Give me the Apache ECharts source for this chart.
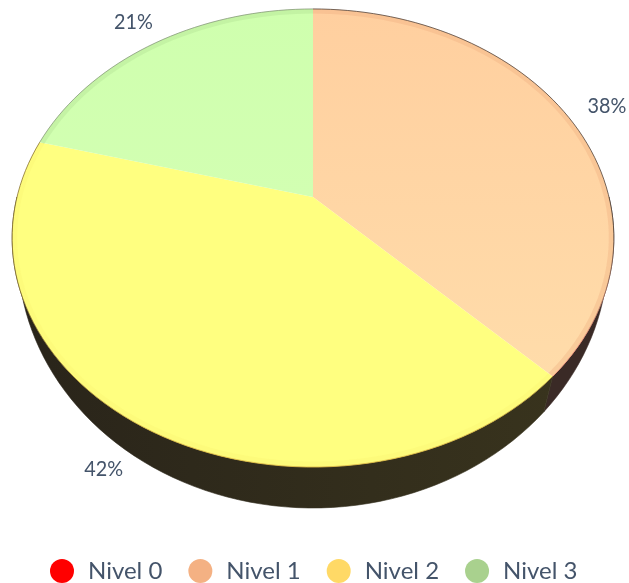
<!DOCTYPE html>
<html lang="es">

<head>
  <meta charset="utf-8">
  <style>
    body {
      margin: 0;
      background: #fff;
    }

    #container {
      width: 629px;
      height: 583px;
    }
  </style>
</head>

<body>
  <div id="container"></div>

  <script src="https://cdn.jsdelivr.net/npm/echarts@6/dist/echarts.min.js"></script>
  <script>
    var niveles = ['Nivel 0', 'Nivel 1', 'Nivel 2', 'Nivel 3']
    var valores = [0, 9, 10, 5]

    var coloresLeyenda = ['#ff0000', '#f4b183', '#ffd966', '#a9d18e']
    var caraArriba = ['#ff0000', '#ffcf9f', '#ffff80', '#cfffae']
    var caraAbajo = ['#ff0000', '#ffdcaa', '#ffff80', '#d2ffb2']
    var lateralIzq = ['#300000', '#3a2a26', '#29241a', '#2a3320']
    var lateralDer = ['#300000', '#3a2a26', '#38331d', '#2a3320']
    var bordeArriba = ['#800000', 'rgba(60,50,45,0.7)', 'rgba(130,105,40,0.75)', 'rgba(120,135,110,0.65)']
    var bordeAbajo = ['#800000', 'rgba(240,150,125,0.9)', 'rgba(225,190,70,0.9)', 'rgba(120,135,110,0.65)']
    var halo = ['#ff0000', 'rgba(235,165,120,0.3)', 'rgba(235,225,90,0.12)', 'rgba(170,215,140,0.3)']
    var colorTexto = '#44546a'

    // perspectiva de la cara superior y de la base
    var cara = { cx: 313, cy: 197, rx: 296, ry: 221.7, k: 0.179 }
    var base = { cx: 313, cy: 214.7, rx: 291.7, ry: 249.3, k: 0.15 }
    var total = valores.reduce(function (a, b) { return a + b }, 0)

    function proyectar(p, grados, f) {
      var t = grados * Math.PI / 180
      var u = Math.sin(t) * f
      var v = -Math.cos(t) * f
      var w = 1 - p.k * v
      return [p.cx + p.rx * u / w, p.cy + p.ry * v / w]
    }

    function arco(p, a0, a1) {
      var pts = []
      var n = Math.max(2, Math.ceil(Math.abs(a1 - a0) / 2))
      for (var i = 0; i <= n; i++) {
        pts.push(proyectar(p, a0 + (a1 - a0) * i / n, 1))
      }
      return pts
    }

    function gradiente(x0, y0, x1, y1, c0, c1) {
      return {
        type: 'linear', x: x0, y: y0, x2: x1, y2: y1,
        colorStops: [{ offset: 0, color: c0 }, { offset: 1, color: c1 }]
      }
    }

    function dibujar(idx) {
      return function () {
        var antes = 0
        for (var i = 0; i < idx; i++) antes += valores[i]
        var a0 = antes / total * 360
        var a1 = (antes + valores[idx]) / total * 360
        if (valores[idx] === 0) return { type: 'group', children: [] }

        var hijos = []
        // lateral: solo la mitad delantera
        var l0 = Math.max(a0, 90)
        var l1 = Math.min(a1, 270)
        if (l1 > l0) {
          var relleno = gradiente(1, 0, 0, 0, lateralDer[idx], lateralIzq[idx])
          hijos.push({
            type: 'polygon',
            z2: 1,
            shape: { points: arco(cara, l0, l1).concat(arco(base, l1, l0)) },
            style: { fill: relleno, stroke: relleno, lineWidth: 0.6 }
          })
        }
        var exterior = arco(cara, a0, a1)
        hijos.push({
          type: 'polygon',
          z2: 10,
          shape: { points: [[cara.cx, cara.cy]].concat(exterior) },
          style: { fill: gradiente(0, 0, 0, 1, caraArriba[idx], caraAbajo[idx]) }
        })
        hijos.push({
          type: 'polyline',
          z2: 11,
          shape: { points: arco({ cx: cara.cx, cy: cara.cy, rx: cara.rx - 2.5, ry: cara.ry - 2.5, k: cara.k }, a0, a1) },
          style: { fill: 'none', stroke: halo[idx], lineWidth: 5 }
        })
        hijos.push({
          type: 'polyline',
          z2: 12,
          shape: { points: exterior },
          style: {
            fill: 'none',
            lineWidth: 1,
            stroke: {
              type: 'linear', x: 0, y: 0, x2: 0, y2: 1,
              colorStops: [
                { offset: 0, color: bordeArriba[idx] },
                { offset: 0.6, color: bordeArriba[idx] },
                { offset: 0.9, color: bordeAbajo[idx] },
                { offset: 1, color: bordeAbajo[idx] }
              ]
            }
          }
        })
        var pos = proyectar(cara, (a0 + a1) / 2, 1.16)
        hijos.push({
          type: 'text',
          z2: 13,
          x: pos[0],
          y: pos[1],
          scaleX: 0.9,
          style: {
            text: Math.round(valores[idx] / total * 100) + '%',
            fill: colorTexto,
            font: '22px Lato, sans-serif',
            align: 'center',
            verticalAlign: 'middle'
          }
        })
        return { type: 'group', children: hijos }
      }
    }

    var series = niveles.map(function (nombre, i) {
      return {
        name: nombre,
        type: 'custom',
        coordinateSystem: 'none',
        silent: true,
        clip: false,
        itemStyle: { color: coloresLeyenda[i] },
        data: [valores[i]],
        renderItem: dibujar(i)
      }
    })

    var myChart = echarts.init(document.getElementById('container'), null, { renderer: 'canvas' })
    myChart.setOption({
      animation: false,
      backgroundColor: '#fff',
      legend: {
        data: niveles,
        left: 50,
        top: 559,
        padding: 0,
        itemWidth: 24,
        itemHeight: 24,
        itemGap: 26,
        selectedMode: false,
        icon: 'circle',
        textStyle: {
          color: colorTexto,
          fontSize: 24,
          fontFamily: 'Lato, sans-serif',
          padding: [0, 0, 0, 9]
        }
      },
      series: series
    })
  </script>
</body>

</html>
